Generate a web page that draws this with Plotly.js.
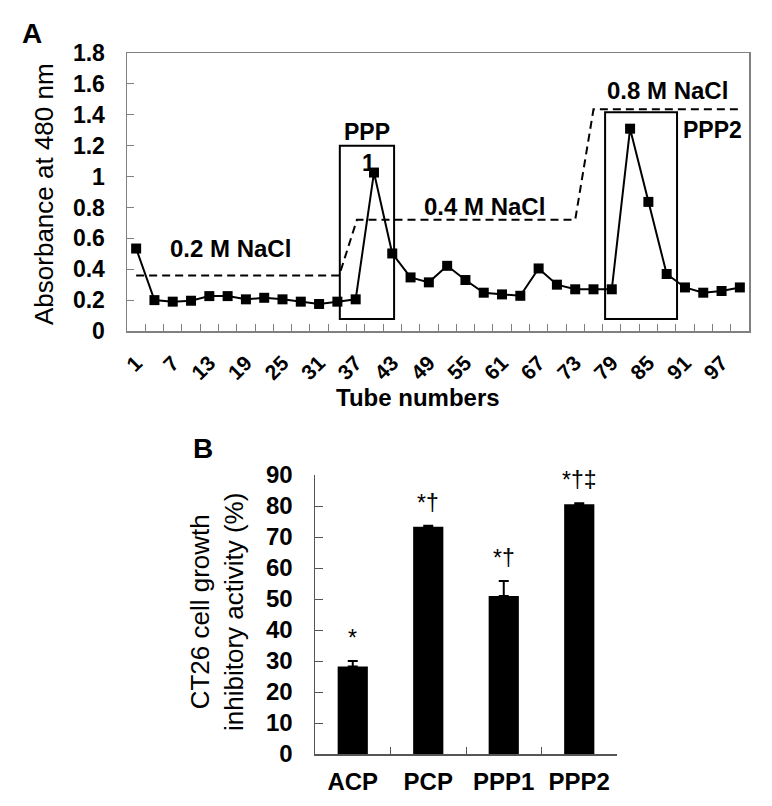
<!DOCTYPE html>
<html>
<head>
<meta charset="utf-8">
<script src="https://cdn.plot.ly/plotly-3.0.1.min.js"></script>
<style>html,body{margin:0;padding:0;background:#fff;}#chart{width:772px;height:806px;}</style>
</head>
<body>
<div id="chart"></div>
<script>
// ---- Panel A data ----
const tubes = [1,4,7,10,13,16,19,22,25,28,31,34,37,40,43,46,49,52,55,58,61,64,67,70,73,76,79,82,85,88,91,94,97,100];
const absorbance = [0.534,0.200,0.190,0.196,0.226,0.226,0.205,0.215,0.205,0.190,0.175,0.190,0.205,1.026,0.502,0.347,0.315,0.422,0.330,0.248,0.237,0.228,0.405,0.300,0.270,0.270,0.270,1.310,0.836,0.369,0.282,0.248,0.259,0.282];
const tubeTickLabels = [1,7,13,19,25,31,37,43,49,55,61,67,73,79,85,91,97];
const saltTube = [1,34.3,37.2,73,76,100];
const saltLevel = [0.36,0.36,0.72,0.72,1.435,1.435];
const saltLabels = ['0.2 M NaCl','0.4 M NaCl','0.8 M NaCl'];
const poolNames = ['PPP','PPP2'];
const poolTubeStart = [34.4,77.9];
const poolTubeEnd = [43.3,89.7];
const poolLow = [0.078,0.078];
const poolHigh = [1.2,1.416];

// ---- Panel B data ----
const samples = ['ACP','PCP','PPP1','PPP2'];
const activity = [28.2,73.3,51.0,80.6];
const activityErr = [1.8,0.3,4.8,0.3];
const sigMarks = ['*','*\u2020','*\u2020','*\u2020\u2021'];

const W = 772, H = 806;
const px = v => v / W;
const py = v => 1 - v / H;
const FONT = 'Liberation Sans, Arial, sans-serif';
const FRAME = '#808080';
const AXIS = '#555555';

const traces = [
  {x: saltTube, y: saltLevel, xaxis:'x', yaxis:'y', mode:'lines', type:'scatter',
   line:{color:'#000', width:2, dash:'8px,5px'}, hoverinfo:'skip'},
  {x: tubes, y: absorbance, xaxis:'x', yaxis:'y', mode:'lines+markers', type:'scatter',
   line:{color:'#000', width:2}, marker:{symbol:'square', size:10, color:'#000'}},
  {x: samples, y: activity, xaxis:'x2', yaxis:'y2', type:'bar', width:0.4,
   marker:{color:'#000'},
   error_y:{type:'data', symmetric:false, array:activityErr, arrayminus:activityErr.map(()=>0),
            color:'#000', thickness:2, width:5}}
];

const boundaries = tubes.map(t => t + 1.5);

const shapes = poolNames.map((n,i) => ({
  type:'rect', xref:'x', yref:'y', x0:poolTubeStart[i], x1:poolTubeEnd[i], y0:poolLow[i], y1:poolHigh[i],
  line:{color:'#000', width:2}, fillcolor:'rgba(0,0,0,0)'
}));

const boldF = (s) => ({family:FONT, size:s, color:'#000', weight:'bold'});
const regF = (s) => ({family:FONT, size:s, color:'#000'});
const note = (text, x, y, font, extra) => Object.assign({
  text:text, xref:'paper', yref:'paper', x:px(x), y:py(y), xanchor:'center', yanchor:'middle',
  showarrow:false, font:font
}, extra || {});

const annotations = [
  note('A', 32, 33, boldF(28)),
  note('B', 203, 448, boldF(28)),
  note('Absorbance at 480 nm', 44, 194, regF(26), {textangle:-90}),
  note('Tube numbers', 418, 397, boldF(24)),
  note('CT26 cell growth<br>inhibitory activity (%)', 217, 612, regF(26), {textangle:-90}),
  note(saltLabels[0], 230, 248, boldF(24)),
  note(saltLabels[1], 484, 207, boldF(24)),
  note(saltLabels[2], 667, 90, boldF(24)),
  note(poolNames[0], 367, 132, boldF(23)),
  note('1', 368, 163, boldF(23)),
  note(poolNames[1], 712, 130, boldF(23))
];
samples.forEach((s,i) => annotations.push({
  text:sigMarks[i], xref:'x2', yref:'y2', x:s, y:activity[i]+activityErr[i], xanchor:'center', yanchor:'bottom',
  showarrow:false, font:regF(23), yshift:8
}));

const layout = {
  width:W, height:H, margin:{l:0,r:0,t:0,b:0}, showlegend:false,
  paper_bgcolor:'#fff', plot_bgcolor:'#fff',
  font:{family:FONT, color:'#000'},
  xaxis:{domain:[px(127), px(749)], anchor:'y', range:[-0.5,101.5], tickmode:'array', tickvals:tubeTickLabels,
         ticktext:tubeTickLabels.map(String), ticks:'', tickangle:-45, tickfont:boldF(21),
         showline:true, mirror:true, linecolor:FRAME, linewidth:1.5, showgrid:false, zeroline:false,
         ticklabelstandoff:10,
         minor:{tickmode:'array', tickvals:boundaries, ticks:'inside', ticklen:7, tickcolor:FRAME, tickwidth:1, showgrid:false}},
  yaxis:{domain:[py(331), py(53)], anchor:'x', range:[0,1.8], dtick:0.2, tick0:0, ticks:'inside', ticklen:7,
         tickcolor:FRAME, tickfont:boldF(23), showline:true, mirror:true, linecolor:FRAME, linewidth:1.5,
         showgrid:false, zeroline:false, ticklabelstandoff:16},
  xaxis2:{domain:[px(315), px(617)], anchor:'y2', type:'category', range:[-0.5,3.5], tickson:'boundaries',
          ticks:'inside', ticklen:7, tickcolor:AXIS, tickfont:boldF(24), showline:true, linecolor:AXIS, linewidth:1.5,
          showgrid:false, zeroline:false, ticklabelstandoff:6},
  yaxis2:{domain:[py(754), py(475)], anchor:'x2', range:[0,90], dtick:10, tick0:0, ticks:'inside', ticklen:8,
          tickcolor:AXIS, tickfont:boldF(24), showline:true, linecolor:AXIS, linewidth:1.5,
          showgrid:false, zeroline:false, ticklabelstandoff:16},
  shapes: shapes,
  annotations: annotations
};

Plotly.newPlot('chart', traces, layout, {staticPlot:true, displayModeBar:false});
</script>
</body>
</html>
